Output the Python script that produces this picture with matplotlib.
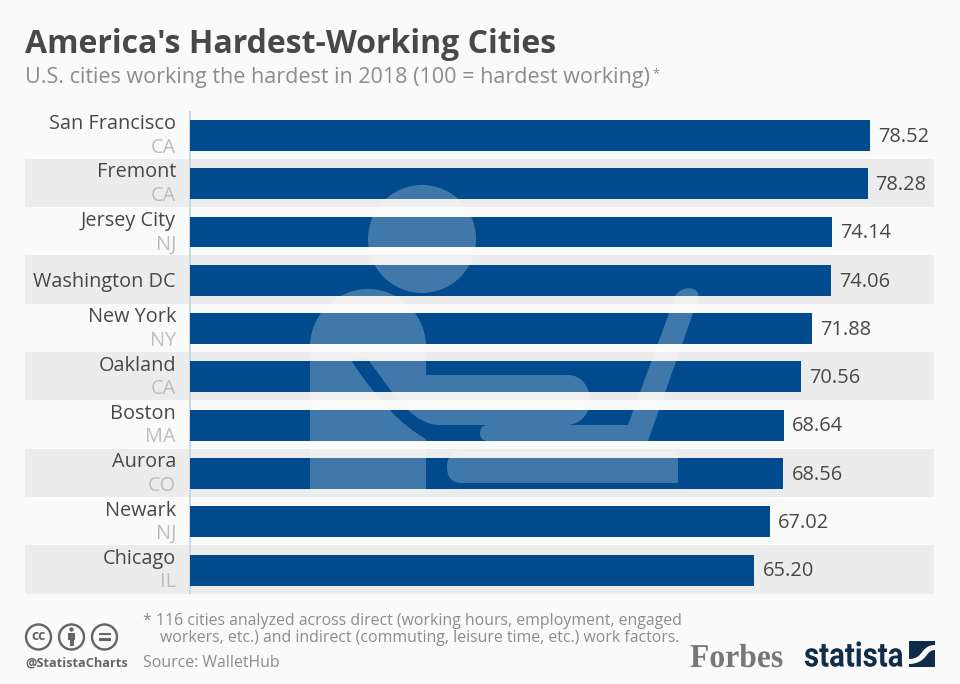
#!/usr/bin/env python3
"""America's hardest-working cities, Statista style bar chart."""

import matplotlib
matplotlib.use("Agg")
import matplotlib.pyplot as plt
from matplotlib.patches import Circle, PathPatch, Polygon, Rectangle
from matplotlib.path import Path
from matplotlib.patheffects import AbstractPathEffect
from matplotlib.transforms import Affine2D

plt.rcParams["font.family"] = ["Open Sans", "DejaVu Sans"]

CITIES = ["San Francisco", "Fremont", "Jersey City", "Washington DC", "New York",
          "Oakland", "Boston", "Aurora", "Newark", "Chicago"]
STATES = ["CA", "CA", "NJ", "", "NY", "CA", "MA", "CO", "NJ", "IL"]
SCORES = [78.52, 78.28, 74.14, 74.06, 71.88, 70.56, 68.64, 68.56, 67.02, 65.20]

TITLE = "America's Hardest-Working Cities"
SUBTITLE = "U.S. cities working the hardest in 2018 (100 = hardest working)"
NOTE_1 = "* 116 cities analyzed across direct (working hours, employment, engaged"
NOTE_2 = "workers, etc.) and indirect (commuting, leisure time, etc.) work factors."
SOURCE = "Source: WalletHub"

W, H = 960, 684
PX_PER_UNIT = 8.65
BG = "#fafafa"
BAND = "#ececec"
BLUE = "#004a8d"
DARK = "#484848"
GREY = "#8c8c8c"
NAVY = "#0f2d4a"
PT = 72 / 100  # one pixel in points at dpi=100

M, L, C3, C4, Z = Path.MOVETO, Path.LINETO, Path.CURVE3, Path.CURVE4, Path.CLOSEPOLY


class SqueezeX(AbstractPathEffect):
    """Narrow a text horizontally around a pixel column (for the logo wordmarks)."""

    def __init__(self, factor, x0):
        super().__init__()
        self.factor = factor
        self.x0 = x0

    def draw_path(self, renderer, gc, tpath, affine, rgbFace=None):
        squeeze = Affine2D().translate(-self.x0, 0).scale(self.factor, 1).translate(self.x0, 0)
        renderer.draw_path(gc, tpath, affine + squeeze, rgbFace)


def draw_bars(fig):
    left, right, top, bottom = 25, 934, 110.5, 593.5
    ax = fig.add_axes([left / W, 1 - bottom / H, (right - left) / W, (bottom - top) / H])
    ax.set_xlim(-165 / PX_PER_UNIT, (right - 190) / PX_PER_UNIT)
    ax.set_ylim(len(CITIES) - 0.5, -0.5)
    ax.set_axis_off()

    for i in range(1, len(CITIES), 2):
        ax.axhspan(i - 0.5, i + 0.5, color=BAND, lw=0, zorder=1)
    ax.axvline(0, color="#d0d6dc", lw=2 * PT, zorder=2)

    y = [i + 0.015 for i in range(len(CITIES))]
    ax.barh(y, SCORES, left=0.05, height=0.64, color=BLUE, zorder=3)

    for i, (city, state, score) in enumerate(zip(CITIES, STATES, SCORES)):
        ax.annotate(f"{score:.2f}", (score, i), xytext=(8.5 * PT, -2 * PT), textcoords="offset points",
                    fontsize=14.4, color=DARK, va="center", ha="left", zorder=4)
        name_off = 10.5 if state else -2
        ax.annotate(city, (0, i), xytext=(-14 * PT, name_off * PT), textcoords="offset points",
                    fontsize=14.3, color=DARK, va="center", ha="right", zorder=4)
        if state:
            ax.annotate(state, (0, i), xytext=(-14 * PT, -13 * PT), textcoords="offset points",
                        fontsize=14.3, color="#bdbdbd", va="center", ha="right", zorder=4)


def draw_icon(ov):
    """Translucent person at a laptop over the bars."""
    style = dict(facecolor="white", edgecolor="none", alpha=0.26, zorder=10)
    ov.add_patch(Circle((422, 239), 54, **style))

    body = [
        (M, (310, 492)), (L, (310, 347)), (C4, (310, 315)), (C4, (336, 289)), (C4, (368, 289)),
        (C4, (400, 289)), (C4, (426, 315)), (C4, (426, 347)), (L, (426, 375)), (L, (568, 375)),
        (C4, (582, 375)), (C4, (590, 388)), (C4, (590, 400)), (C4, (590, 412)), (C4, (582, 425)),
        (C4, (566, 425)), (L, (440, 425)), (C4, (412, 425)), (C4, (392, 392)), (C4, (370, 362)),
        (C3, (362, 352)), (C3, (352, 362)), (C4, (375, 396)), (C4, (400, 425)), (C4, (426, 439)),
        (L, (426, 492)), (Z, (310, 492)),
    ]
    laptop = [
        (M, (480, 433)), (C3, (480, 425)), (C3, (488, 425)), (L, (628, 425)), (L, (675, 297)),
        (C4, (679, 285)), (C4, (702, 285)), (C4, (698, 299)), (L, (648, 441)), (L, (488, 441)),
        (C3, (480, 441)), (C3, (480, 433)), (Z, (480, 433)),
    ]
    desk = [
        (M, (447, 467)), (C3, (447, 452)), (C3, (462, 452)), (L, (678, 452)), (L, (678, 483)),
        (L, (462, 483)), (C3, (447, 483)), (C3, (447, 467)), (Z, (447, 467)),
    ]
    for shape in (body, laptop, desk):
        codes, verts = zip(*shape)
        ov.add_patch(PathPatch(Path(verts, codes), **style))


def draw_footer(ov):
    ov.text(25, 53, TITLE, fontsize=23.07, fontweight="bold", color=DARK, va="baseline")
    ov.text(25, 83.5, SUBTITLE, fontsize=15.5, color=GREY, va="baseline")
    ov.text(652, 77, "*", fontsize=9, color=GREY, va="baseline")

    ov.text(143, 625, NOTE_1, fontsize=11.4, color=GREY, va="baseline")
    ov.text(160, 642, NOTE_2, fontsize=11.4, color=GREY, va="baseline")
    ov.text(143, 667, SOURCE, fontsize=11.4, color=GREY, va="baseline")
    ov.text(25, 667, "@StatistaCharts", fontsize=9.2, fontweight="bold", color="#666666", va="baseline")

    # Creative Commons badges
    for cx in (38.5, 71.5, 104.5):
        ov.add_patch(Circle((cx, 637), 12.5, fill=False, edgecolor="#666666", lw=2.4 * PT))
    ov.text(38.5, 636.5, "cc", fontsize=10, fontweight="bold", color="#666666", ha="center", va="center")
    ov.add_patch(Circle((71.5, 629.5), 2.2, color="#666666", lw=0))
    ov.add_patch(Rectangle((68, 633), 7, 7, color="#666666", lw=0))
    ov.add_patch(Rectangle((69.5, 640), 4, 6, color="#666666", lw=0))
    ov.add_patch(Rectangle((98.5, 632.5), 12, 2.5, color="#666666", lw=0))
    ov.add_patch(Rectangle((98.5, 638), 12, 2.5, color="#666666", lw=0))

    # Logos
    forbes = ov.text(690, 667, "Forbes", family="Liberation Serif", fontweight="bold", fontsize=24,
                     color="#777777", va="baseline")
    forbes.set_path_effects([SqueezeX(0.95, 690)])
    wordmark = ov.text(804, 666.5, "statista", family="Roboto", fontweight="bold", fontsize=24.5,
                       color=NAVY, va="baseline")
    wordmark.set_path_effects([SqueezeX(0.865, 804)])
    ov.add_patch(Polygon([(909, 641), (935, 641), (935, 667), (909, 667)], color=NAVY, lw=0))
    swoosh = [
        (M, (909, 659)), (C4, (917, 659)), (C4, (920, 655)), (C4, (923, 651)),
        (C4, (926, 647)), (C4, (930, 645)), (C4, (935, 645)), (L, (935, 650)),
        (C4, (931, 650)), (C4, (929, 652)), (C4, (926, 656)), (C4, (923, 660)),
        (C4, (918, 664)), (C4, (909, 664)), (Z, (909, 659)),
    ]
    codes, verts = zip(*swoosh)
    ov.add_patch(PathPatch(Path(verts, codes), facecolor=BG, edgecolor="none"))


def main():
    fig = plt.figure(figsize=(W / 100, H / 100), dpi=100, facecolor=BG)
    draw_bars(fig)

    # Overlay in pixel coordinates for icon, headline and footer
    ov = fig.add_axes([0, 0, 1, 1], zorder=5)
    ov.set_xlim(0, W)
    ov.set_ylim(H, 0)
    ov.set_axis_off()
    draw_icon(ov)
    draw_footer(ov)

    fig.savefig("out.png", dpi=100, facecolor=BG)


if __name__ == "__main__":
    main()
